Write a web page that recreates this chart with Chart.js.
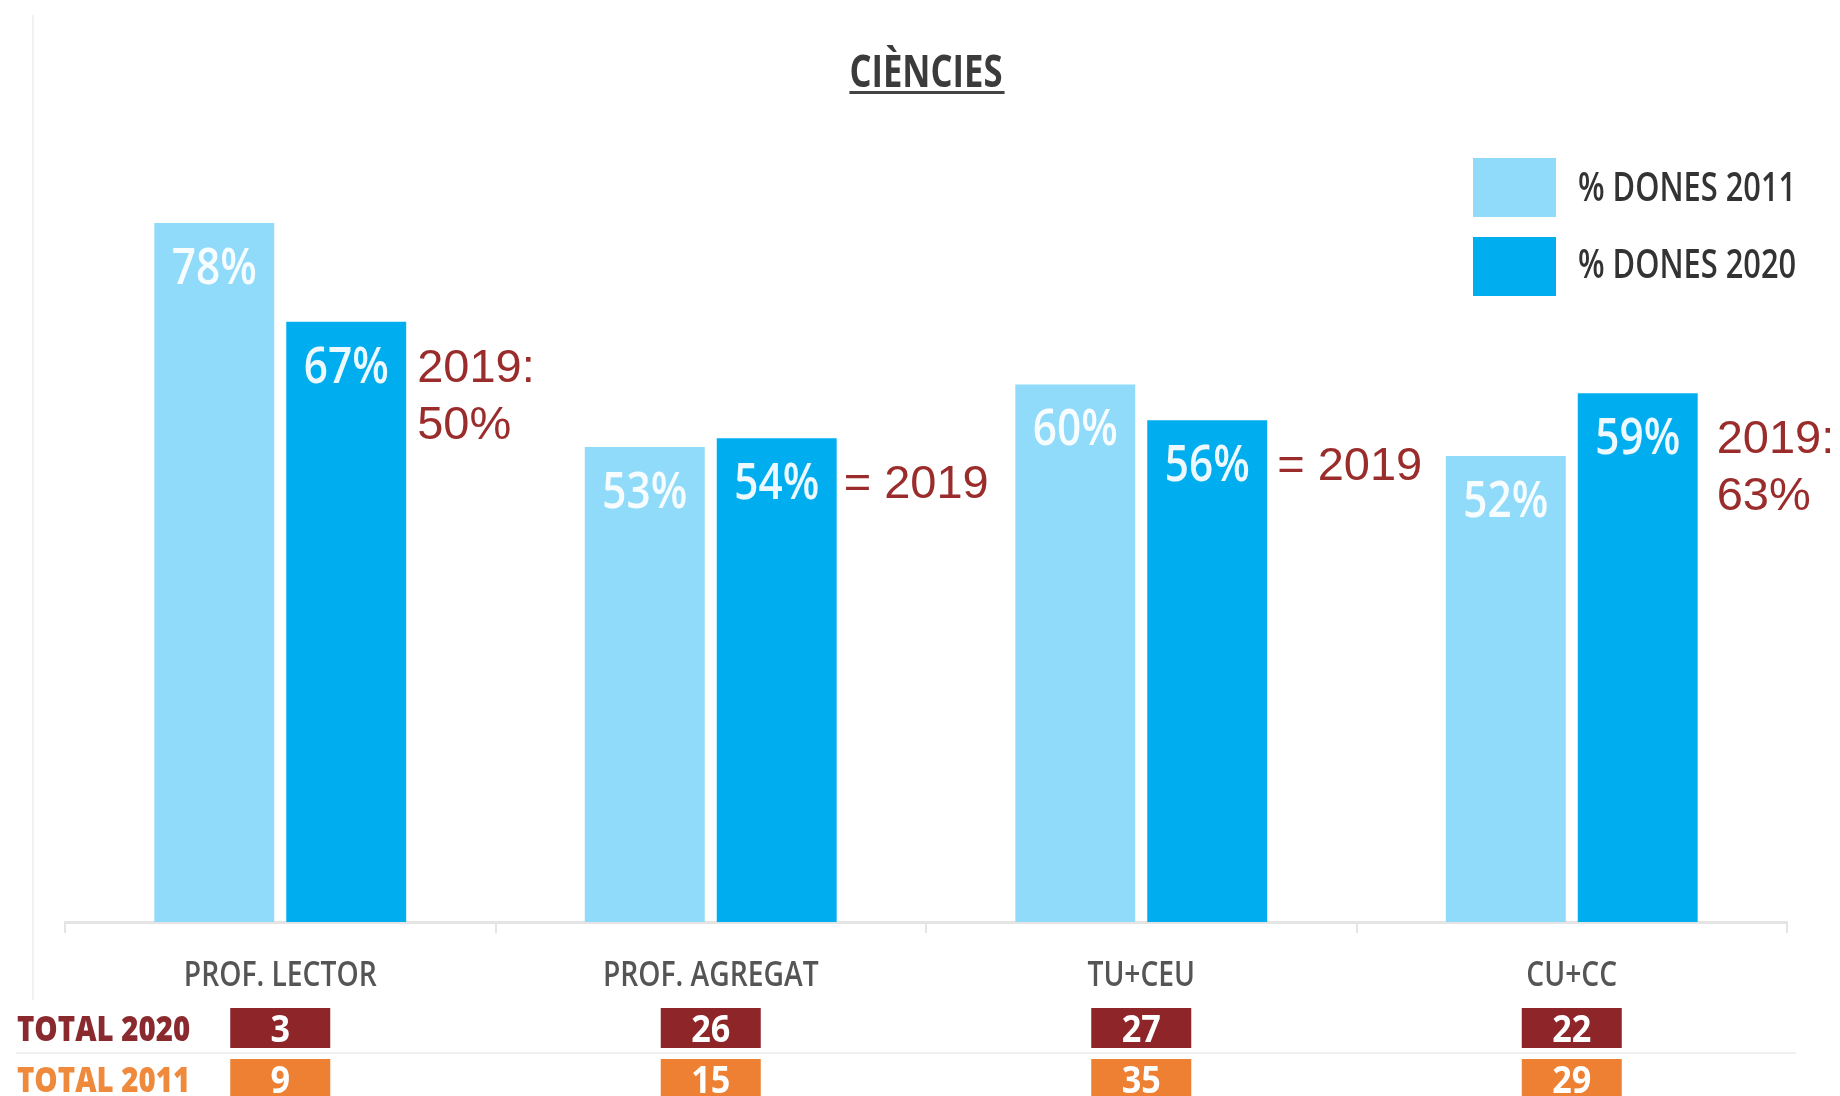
<!DOCTYPE html>
<html><head><meta charset="utf-8">
<script src="https://cdn.jsdelivr.net/npm/chart.js@4/dist/chart.umd.min.js"></script>
<style>html,body{margin:0;padding:0;background:#fff}#wrap{width:1840px;height:1096px;position:relative}</style>
</head><body><div id="wrap"><canvas id="c"></canvas></div>
<script>
// ---- data ----
const categories = ['PROF. LECTOR', 'PROF. AGREGAT', 'TU+CEU', 'CU+CC'];
const women2011 = [78, 53, 60, 52];
const women2020 = [67, 54, 56, 59];
const total2020 = [3, 26, 27, 22];
const total2011 = [9, 15, 35, 29];
const notes2019 = [['2019:', '50%'], ['= 2019'], ['= 2019'], ['2019:', '63%']];
const seriesLabels = ['% DONES 2011', '% DONES 2020'];
const rowLabels = ['TOTAL 2020', 'TOTAL 2011'];
const chartTitle = 'CIÈNCIES';

// ---- style ----
const C_LIGHT = '#90dbf9', C_DARK = '#00aeef';
const C_NOTE = '#9b2c2c';
const C_RED = '#8e2528', C_ORANGE = '#ee8034';
const noteGap = [11, 7, 10, 19];

function condText(ctx, text, x, y, size, weight, color, sx, align) {
  ctx.save();
  ctx.font = weight + ' ' + size + 'px "Open Sans"';
  ctx.fillStyle = color;
  ctx.textBaseline = 'alphabetic';
  ctx.textAlign = 'left';
  const w = ctx.measureText(text).width * sx;
  const x0 = align === 'center' ? x - w / 2 : (align === 'right' ? x - w : x);
  ctx.translate(x0, y);
  ctx.scale(sx, 1);
  ctx.fillText(text, 0, 0);
  ctx.restore();
  return w;
}

const overlay = {
  id: 'overlay',
  afterDraw(chart) {
    const ctx = chart.ctx;
    const xs = chart.scales.x;
    const m0 = chart.getDatasetMeta(0), m1 = chart.getDatasetMeta(1);
    // faint left rule
    ctx.save();
    ctx.fillStyle = '#f1f1f1';
    ctx.fillRect(32, 15, 2, 985);
    ctx.restore();
    // title
    const tw = condText(ctx, chartTitle, 926, 87, 45, 700, '#3b3b3b', 0.77, 'center');
    ctx.save(); ctx.fillStyle = '#444'; ctx.fillRect(926 - tw / 2, 91, tw + 2, 3); ctx.restore();
    // legend
    const lg = [[C_LIGHT, 158, 201], [C_DARK, 237, 278]];
    lg.forEach((l, i) => {
      ctx.fillStyle = l[0];
      ctx.fillRect(1473, l[1], 83, 59);
      condText(ctx, seriesLabels[i], 1578, l[2], 39, 600, '#333', 0.79, 'left');
    });
    // value labels inside bars
    [m0, m1].forEach((m, di) => {
      const vals = di === 0 ? women2011 : women2020;
      m.data.forEach((el, i) => {
        condText(ctx, vals[i] + '%', el.x, el.y + 61, 51, 600, 'rgba(255,255,255,0.93)', 0.83, 'center');
      });
    });
    // 2019 notes
    ctx.save();
    ctx.font = '47px "Liberation Sans", Arial, sans-serif';
    ctx.fillStyle = C_NOTE;
    ctx.textAlign = 'left';
    ctx.textBaseline = 'alphabetic';
    m1.data.forEach((el, i) => {
      const x = el.x + el.width / 2 + noteGap[i];
      notes2019[i].forEach((line, k) => {
        ctx.fillText(line, x, el.y + 60 + k * 57);
      });
    });
    ctx.restore();
    // category labels
    categories.forEach((c, i) => {
      condText(ctx, c, xs.getPixelForValue(i), 986, 34, 600, '#555', 0.83, 'center');
    });
    // separator between table rows
    ctx.save(); ctx.fillStyle = '#f0f0f0'; ctx.fillRect(16, 1052, 1780, 2); ctx.restore();
    // table rows
    const rows = [[total2020, C_RED, '#8a2a2e', 1008], [total2011, C_ORANGE, '#ef8a3c', 1059]];
    rows.forEach((r, ri) => {
      condText(ctx, rowLabels[ri], 17, r[3] + 33, 35, 800, r[2], 0.84, 'left');
      r[0].forEach((v, i) => {
        const cx = xs.getPixelForValue(i);
        ctx.fillStyle = r[1];
        ctx.fillRect(cx - 50, r[3], 100, 40);
        condText(ctx, String(v), cx, r[3] + 34, 38, 700, '#fff', 0.9, 'center');
      });
    });
  }
};

new Chart(document.getElementById('c'), {
  type: 'bar',
  data: {
    labels: categories,
    datasets: [
      { label: seriesLabels[0], data: women2011, backgroundColor: C_LIGHT, categoryPercentage: 0.613, barPercentage: 0.909 },
      { label: seriesLabels[1], data: women2020, backgroundColor: C_DARK, categoryPercentage: 0.613, barPercentage: 0.909 }
    ]
  },
  options: {
    responsive: true, maintainAspectRatio: false, animation: false,
    layout: { padding: { left: 65, right: 53, top: 26, bottom: 0 } },
    plugins: { legend: { display: false }, tooltip: { enabled: false }, title: { display: false } },
    scales: {
      y: { display: false, min: 0, max: 100 },
      x: {
        grid: { drawOnChartArea: false, drawTicks: true, tickLength: 11, color: '#e4e4e4', lineWidth: 2 },
        border: { display: true, color: '#e4e4e4', width: 3 },
        ticks: { display: false },
        afterFit(s) { s.height = 174; }
      }
    }
  },
  plugins: [overlay]
});
</script></body></html>
